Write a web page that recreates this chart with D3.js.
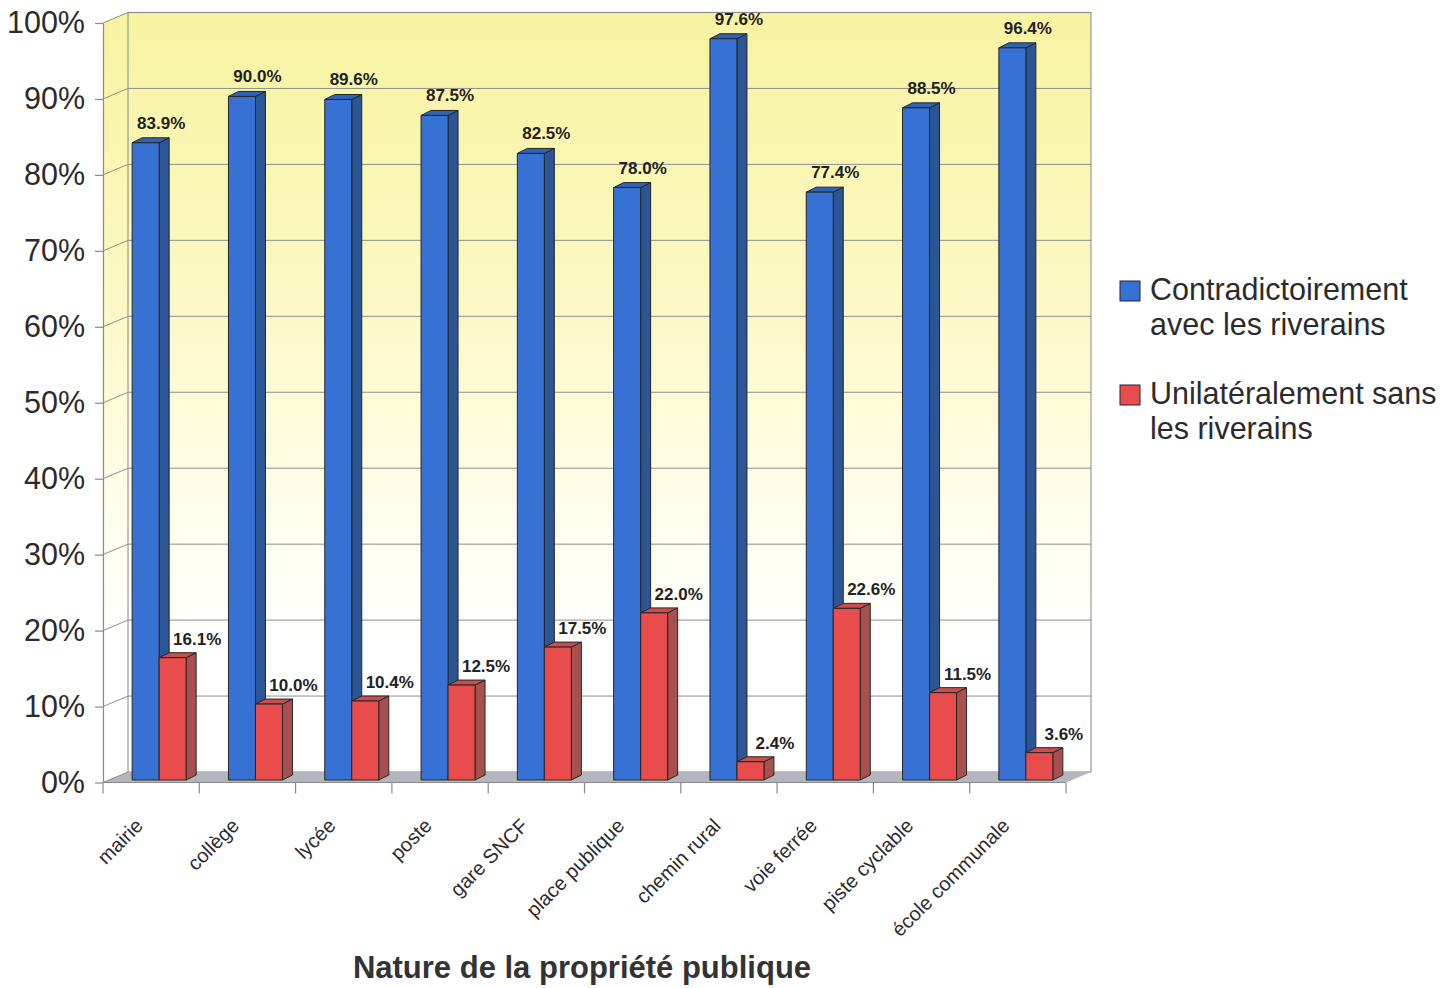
<!DOCTYPE html>
<html>
<head>
<meta charset="utf-8">
<script src="https://cdn.jsdelivr.net/npm/d3@7"></script>
<style>
  html, body { margin: 0; padding: 0; background: #ffffff; }
  svg { display: block; font-family: "Liberation Sans", Arial, sans-serif; }
</style>
</head>
<body>
<svg id="chart" width="1448" height="988"></svg>
<script>
// Répartition des modes de délimitation par nature de propriété publique
const categories = ["mairie", "collège", "lycée", "poste", "gare SNCF", "place publique",
                    "chemin rural", "voie ferrée", "piste cyclable", "école communale"];
const contradictoire = [83.9, 90.0, 89.6, 87.5, 82.5, 78.0, 97.6, 77.4, 88.5, 96.4];
const unilateral     = [16.1, 10.0, 10.4, 12.5, 17.5, 22.0, 2.4, 22.6, 11.5, 3.6];
const yTicks = [0, 10, 20, 30, 40, 50, 60, 70, 80, 90, 100];
const seriesNames = [["Contradictoirement", "avec les riverains"],
                     ["Unilatéralement sans", "les riverains"]];

const svg = d3.select("#chart");

// plot frame: front plane and the receding back wall
const frontLeft = 103, frontRight = 1066;
const depthX = 25, depthY = -10.5;

const x = d3.scaleBand().domain(categories).range([frontLeft, frontRight]).padding(0);
const yFront = d3.scaleLinear().domain([0, 100]).range([782.5, 23]);
const yBack  = d3.scaleLinear().domain([0, 100]).range([782.5 + depthY, 23 + depthY]);
const yBar   = d3.scaleLinear().domain([0, 100]).range([780, 20.5]);

const defs = svg.append("defs");
const grad = defs.append("linearGradient")
  .attr("id", "wallFill").attr("gradientUnits", "userSpaceOnUse")
  .attr("x1", 0).attr("y1", yBack(100)).attr("x2", 0).attr("y2", yFront(0));
grad.append("stop").attr("offset", "0%").attr("stop-color", "#f8f3a0");
grad.append("stop").attr("offset", "35%").attr("stop-color", "#fbf8c2");
grad.append("stop").attr("offset", "68%").attr("stop-color", "#fffef0");
grad.append("stop").attr("offset", "82%").attr("stop-color", "#ffffff");

const gridColor = "#8e8e8e";
const bx0 = frontLeft + depthX, bx1 = frontRight + depthX;

// left side wall
svg.append("path")
  .attr("d", `M${frontLeft},${yFront(100)} L${bx0},${yBack(100)} L${bx0},${yBack(0)} L${frontLeft},${yFront(0)} Z`)
  .attr("fill", "url(#wallFill)");
// back wall
svg.append("rect")
  .attr("x", bx0).attr("y", yBack(100))
  .attr("width", bx1 - bx0).attr("height", yBack(0) - yBack(100))
  .attr("fill", "url(#wallFill)")
  .attr("stroke", "#9a9a9a").attr("stroke-width", 1.2);
// floor
svg.append("path")
  .attr("d", `M${frontLeft},${yFront(0)} L${bx0},${yBack(0)} L${bx1},${yBack(0)} L${frontRight},${yFront(0)} Z`)
  .attr("fill", "#b5b5bd");

// gridlines on the back wall and the side wall
const grid = svg.append("g").attr("stroke", gridColor).attr("stroke-width", 1);
yTicks.forEach(t => {
  if (t > 0) {
    grid.append("line").attr("x1", bx0).attr("x2", bx1)
      .attr("y1", yBack(t)).attr("y2", yBack(t));
  }
  grid.append("line").attr("x1", frontLeft).attr("x2", bx0)
    .attr("y1", yFront(t)).attr("y2", yBack(t));
});

// y axis on the front plane
const yAxis = svg.append("g")
  .attr("transform", `translate(${frontLeft},0)`)
  .call(d3.axisLeft(yFront).tickValues(yTicks).tickFormat(d => d + "%").tickSize(8).tickPadding(10).tickSizeOuter(0));
yAxis.select(".domain").attr("stroke", "#8a8a8a").attr("stroke-width", 1.2);
yAxis.selectAll(".tick line").attr("stroke", "#8a8a8a").attr("stroke-width", 1.2);
yAxis.selectAll(".tick text")
  .attr("font-size", 30.5).attr("fill", "#2b2b2b")
  .attr("font-family", "'Liberation Sans', Arial, sans-serif");

// x axis: baseline, ticks between categories, rotated labels
const xAxisG = svg.append("g");
xAxisG.append("line")
  .attr("x1", frontLeft).attr("x2", frontRight)
  .attr("y1", yFront(0)).attr("y2", yFront(0))
  .attr("stroke", "#8a8a8a").attr("stroke-width", 1.2);
const boundaries = categories.map(c => x(c)).concat([frontRight]);
xAxisG.selectAll("line.tk").data(boundaries).join("line")
  .attr("class", "tk")
  .attr("x1", d => d).attr("x2", d => d)
  .attr("y1", yFront(0)).attr("y2", yFront(0) + 11)
  .attr("stroke", "#8a8a8a").attr("stroke-width", 1.2);
xAxisG.selectAll("text.cat").data(categories).join("text")
  .attr("class", "cat")
  .attr("transform", c => `translate(${x(c) + x.bandwidth() / 2 - 7},827) rotate(-45)`)
  .attr("text-anchor", "end")
  .attr("font-size", 20).attr("fill", "#2b2b2b")
  .text(c => c);

// 3D bars
const barW = 27, barDx = 10, barDy = -5;
const palette = [
  { front: "#3871d4", top: "#2f63b8", side: "#2c5595" },
  { front: "#e84c4c", top: "#c94e4e", side: "#a85050" }
];
const barsG = svg.append("g").attr("stroke", "#262626").attr("stroke-width", 1).attr("stroke-linejoin", "round");

function drawBar(x0, v, col) {
  const y0 = yBar(0), y1 = yBar(v);
  const g = barsG.append("g");
  g.append("path")
    .attr("d", `M${x0 + barW},${y1} L${x0 + barW + barDx},${y1 + barDy} L${x0 + barW + barDx},${y0 + barDy} L${x0 + barW},${y0} Z`)
    .attr("fill", col.side);
  g.append("path")
    .attr("d", `M${x0},${y1} L${x0 + barDx},${y1 + barDy} L${x0 + barW + barDx},${y1 + barDy} L${x0 + barW},${y1} Z`)
    .attr("fill", col.top);
  g.append("rect")
    .attr("x", x0).attr("y", y1).attr("width", barW).attr("height", y0 - y1)
    .attr("fill", col.front);
}

const blueLeft = c => x(c) + x.bandwidth() / 2 - 19;
categories.forEach((c, i) => {
  drawBar(blueLeft(c), contradictoire[i], palette[0]);
  drawBar(blueLeft(c) + barW, unilateral[i], palette[1]);
});

// value labels
const labelsG = svg.append("g")
  .attr("font-size", 17).attr("font-weight", "bold").attr("fill", "#222")
  .attr("text-anchor", "middle");
categories.forEach((c, i) => {
  labelsG.append("text")
    .attr("x", blueLeft(c) + 29).attr("y", yBar(contradictoire[i]) - 14)
    .text(contradictoire[i].toFixed(1) + "%");
  labelsG.append("text")
    .attr("x", blueLeft(c) + barW + 38).attr("y", yBar(unilateral[i]) - 13)
    .text(unilateral[i].toFixed(1) + "%");
});

// axis title
svg.append("text")
  .attr("x", 582).attr("y", 978)
  .attr("text-anchor", "middle")
  .attr("font-size", 31).attr("font-weight", "bold").attr("fill", "#333")
  .text("Nature de la propriété publique");

// legend
const legend = svg.append("g").attr("transform", "translate(1120,281)");
seriesNames.forEach((lines, i) => {
  const g = legend.append("g").attr("transform", `translate(0,${i * 104})`);
  g.append("rect").attr("width", 20).attr("height", 20)
    .attr("fill", palette[i].front).attr("stroke", "#262626").attr("stroke-width", 1);
  lines.forEach((t, j) => {
    g.append("text").attr("x", 30).attr("y", 19 + j * 35)
      .attr("font-size", 30.5).attr("fill", "#2b2b2b").text(t);
  });
});
</script>
</body>
</html>
